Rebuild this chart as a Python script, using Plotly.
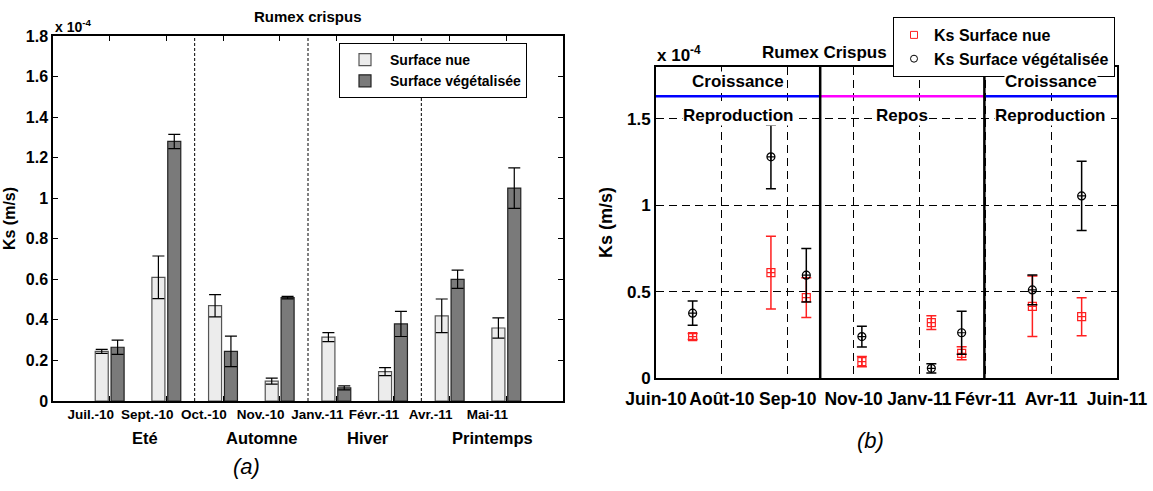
import plotly.graph_objects as go
import pandas as pd

W, H = 1153, 491

# (a) Ks en 1e-4 m/s, barres
mois_a = ["Juil.-10", "Sept.-10", "Oct.-10", "Nov.-10", "Janv.-11", "Févr.-11", "Avr.-11", "Mai-11"]
nue_a = [0.245, 0.61, 0.47, 0.098, 0.315, 0.145, 0.42, 0.36]
nue_a_err = [0.01, 0.105, 0.055, 0.015, 0.022, 0.02, 0.083, 0.05]
veg_a = [0.265, 1.28, 0.245, 0.51, 0.065, 0.38, 0.60, 1.05]
veg_a_err = [0.035, 0.035, 0.075, 0.006, 0.01, 0.062, 0.045, 0.1]
saisons = ["Eté", "Automne", "Hiver", "Printemps"]
saisons_pos = [1.62, 3.69, 5.56, 7.76]
limites_saisons = [2.5, 4.5, 6.5]

# (b) Ks en 1e-4 m/s, points
dates_b = ["2010-06-30", "2010-08-31", "2010-09-28", "2010-11-11",
           "2011-01-05", "2011-01-29", "2011-03-26", "2011-05-04"]
nue_b = [0.24, 0.61, 0.465, 0.095, 0.32, 0.143, 0.415, 0.355]
nue_b_err = [0.017, 0.21, 0.115, 0.03, 0.04, 0.038, 0.175, 0.11]
veg_b = [0.375, 1.28, 0.595, 0.24, 0.056, 0.262, 0.51, 1.054]
veg_b_err = [0.07, 0.185, 0.155, 0.06, 0.027, 0.125, 0.086, 0.2]
mois_b = ["Juin-10", "Août-10", "Sep-10", "Nov-10", "Janv-11", "Févr-11", "Avr-11", "Juin-11"]
debut_b, fin_b = "2010-06-01", "2011-06-01"
phases_lim = ["2010-06-01", "2010-10-09", "2011-02-16", "2011-06-01"]
phases_haut = ["Croissance", "", "Croissance"]
phases_bas = ["Reproduction", "Repos", "Reproduction"]
phases_coul = ["#0000ff", "#ff00ff", "#0000ff"]
niveau_phase = 1.63

FONT = "Liberation Sans"


def px_x(p):
    return p / W


def px_y(p):
    return 1 - p / H


def note(text, x, y, size, **kw):
    d = dict(text=text, x=x, y=y, xref="paper", yref="paper", showarrow=False,
             xanchor="center", yanchor="middle", font=dict(size=size))
    d.update(kw)
    return d


fig = go.Figure()

x_a = list(range(1, len(mois_a) + 1))
fig.add_trace(go.Bar(x=x_a, y=nue_a, name="Surface nue",
                     marker=dict(color="#ececec", line=dict(color="#555555", width=1.2)),
                     error_y=dict(type="data", array=nue_a_err, color="black", thickness=1.2, width=6),
                     xaxis="x", yaxis="y", legend="legend"))
fig.add_trace(go.Bar(x=x_a, y=veg_a, name="Surface végétalisée",
                     marker=dict(color="#7a7a7a", line=dict(color="#222222", width=1.2)),
                     error_y=dict(type="data", array=veg_a_err, color="black", thickness=1.2, width=6),
                     xaxis="x", yaxis="y", legend="legend"))

# (b)
fig.add_trace(go.Scatter(x=dates_b, y=nue_b, mode="markers", showlegend=False,
                         marker=dict(symbol="square-cross-open", size=8, color="#ff2020", line=dict(width=1.2)),
                         error_y=dict(type="data", array=nue_b_err, color="#ff2020", thickness=1.5, width=5),
                         xaxis="x2", yaxis="y2"))
fig.add_trace(go.Scatter(x=dates_b, y=veg_b, mode="markers", showlegend=False,
                         marker=dict(symbol="circle-cross-open", size=8, color="black", line=dict(width=1.2)),
                         error_y=dict(type="data", array=veg_b_err, color="black", thickness=1.5, width=5),
                         xaxis="x2", yaxis="y2"))
# entrées de légende
fig.add_trace(go.Scatter(x=[None], y=[None], mode="markers", name="Ks Surface nue",
                         marker=dict(symbol="square-open", size=7, color="#ff2020"),
                         xaxis="x2", yaxis="y2", legend="legend2"))
fig.add_trace(go.Scatter(x=[None], y=[None], mode="markers", name="Ks Surface végétalisée",
                         marker=dict(symbol="circle-open", size=7, color="black"),
                         xaxis="x2", yaxis="y2", legend="legend2"))

shapes = []
for xv in limites_saisons:
    shapes.append(dict(type="line", xref="x", yref="y", x0=xv, x1=xv, y0=0, y1=1.8,
                       line=dict(color="black", width=1, dash="3px,2px"), layer="below"))

for i in range(3):
    shapes.append(dict(type="line", xref="x2", yref="y2", x0=phases_lim[i], x1=phases_lim[i + 1],
                       y0=niveau_phase, y1=niveau_phase, line=dict(color=phases_coul[i], width=2.5)))
for d in phases_lim[1:3]:
    shapes.append(dict(type="line", xref="x2", yref="y2", x0=d, x1=d, y0=0, y1=1.8,
                       line=dict(color="black", width=2.5)))

annotations = [
    note("Rumex crispus", px_x(308), px_y(17), 15),
    note("x 10<sup>-4</sup>", px_x(53), px_y(26), 14, xanchor="left"),
    note("(a)", px_x(246), px_y(466), 22, font=dict(size=22, style="italic", weight="normal")),
    note("Rumex Crispus", px_x(824), px_y(52), 17),
    note("x 10<sup>-4</sup>", px_x(655), px_y(54), 17, xanchor="left"),
    note("(b)", px_x(870), px_y(440), 22, font=dict(size=22, style="italic", weight="normal")),
]
for s, p in zip(saisons, saisons_pos):
    annotations.append(dict(text=s, x=p, y=px_y(438), xref="x", yref="paper", yanchor="middle",
                            showarrow=False, font=dict(size=16.5)))

lims = [pd.Timestamp(d) for d in phases_lim]
for i in range(3):
    mid = lims[i] + (lims[i + 1] - lims[i]) / 2
    if phases_haut[i]:
        annotations.append(dict(text=phases_haut[i], x=mid, y=1.715, xref="x2", yref="y2",
                                showarrow=False, bgcolor="white", borderpad=0, font=dict(size=17)))
    annotations.append(dict(text=phases_bas[i], x=mid, y=1.52, xref="x2", yref="y2",
                            showarrow=False, bgcolor="white", borderpad=0, font=dict(size=17)))

tickvals_b = pd.date_range(debut_b, fin_b, periods=len(mois_b))
yt_a = [round(0.2 * i, 1) for i in range(10)]
yt_b = [0, 0.5, 1, 1.5]

fig.update_layout(
    width=W, height=H,
    margin=dict(l=0, r=0, t=0, b=0, autoexpand=False),
    paper_bgcolor="white", plot_bgcolor="white",
    font=dict(family=FONT, size=13, color="black", weight="bold"),
    barmode="group", bargap=0.44, bargroupgap=0.18,
    xaxis=dict(domain=[px_x(53), px_x(563)], range=[0, 9], tickvals=x_a, ticktext=mois_a,
               ticks="inside", ticklen=5, tickcolor="black", mirror="ticks", showline=True,
               linecolor="black", linewidth=1.5, showgrid=False, zeroline=False,
               ticklabelshift=-19, tickfont=dict(size=13.5)),
    yaxis=dict(domain=[px_y(401), px_y(36)], range=[0, 1.8], tickvals=yt_a,
               ticktext=[f"{v:g}" for v in yt_a], ticks="inside", ticklen=5, tickcolor="black",
               mirror="ticks", showline=True, linecolor="black", linewidth=1.5, showgrid=False,
               zeroline=False, tickfont=dict(size=16),
               title=dict(text="Ks (m/s)", standoff=6, font=dict(size=16))),
    xaxis2=dict(domain=[px_x(656), px_x(1117)], type="date", range=[debut_b, fin_b],
                tickvals=tickvals_b, ticktext=mois_b, ticks="", showline=True, mirror=True,
                linecolor="black", linewidth=2, showgrid=True, gridcolor="black",
                griddash="8px,5px", gridwidth=1, zeroline=False, anchor="y2",
                ticklabelstandoff=4, tickfont=dict(size=17.5)),
    yaxis2=dict(domain=[px_y(378), px_y(67)], range=[0, 1.8], tickvals=yt_b,
                ticktext=[f"{v:g}" for v in yt_b], ticks="", showline=True, mirror=True,
                linecolor="black", linewidth=2, showgrid=True, gridcolor="black",
                griddash="8px,5px", gridwidth=1, zeroline=False, anchor="x2",
                tickfont=dict(size=17),
                title=dict(text="Ks (m/s)", standoff=10, font=dict(size=18))),
    legend=dict(x=px_x(339), y=px_y(43), xanchor="left", yanchor="top", bgcolor="white",
                bordercolor="black", borderwidth=1, font=dict(size=14), itemwidth=40,
                tracegroupgap=2),
    legend2=dict(x=px_x(893), y=px_y(17), xanchor="left", yanchor="top", bgcolor="white",
                 bordercolor="black", borderwidth=1, font=dict(size=16), itemwidth=30),
    shapes=shapes,
    annotations=annotations,
)

fig.write_html("out.html", config={"displayModeBar": False},
               post_script="document.body.style.margin='0px';document.body.style.overflow='hidden';")
